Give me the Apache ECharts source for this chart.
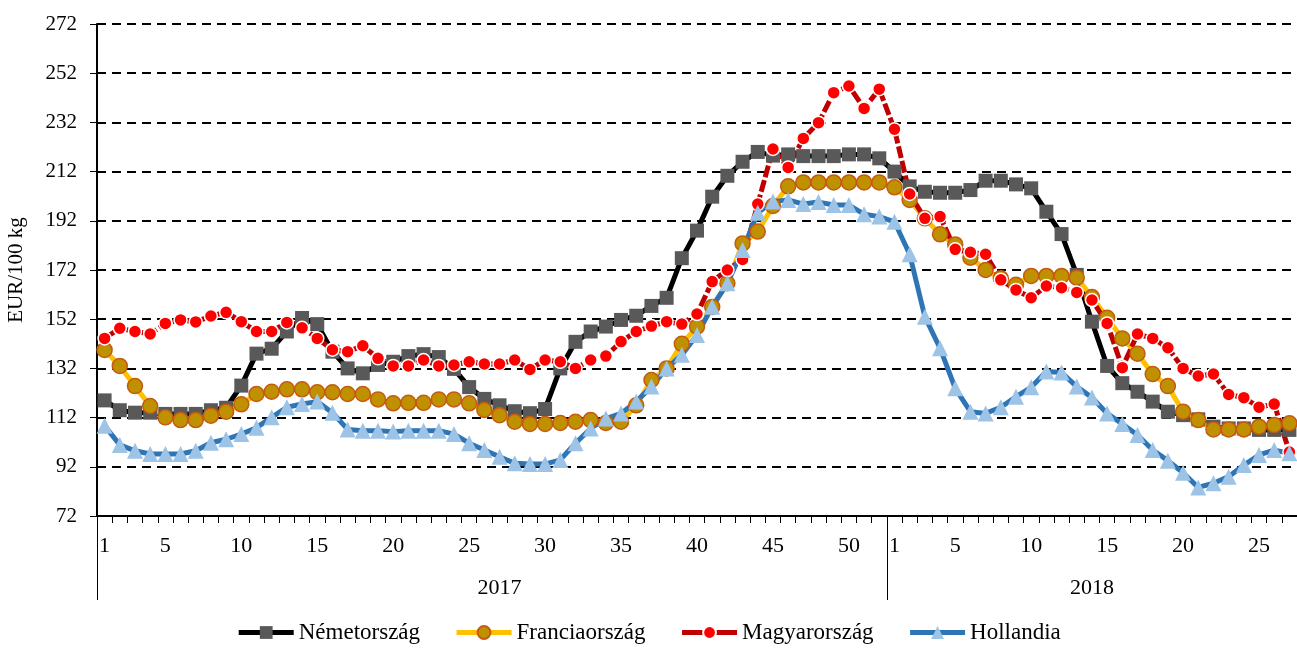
<!DOCTYPE html>
<html>
<head>
<meta charset="utf-8">
<script src="https://cdn.jsdelivr.net/npm/echarts@6/dist/echarts.min.js"></script>
<style>
  html, body { margin: 0; padding: 0; background: #fff; }
  #chart { width: 1297px; height: 652px; }
</style>
</head>
<body>
<div id="chart"></div>
<script>
// weeks of each year
const weeks2017 = [1,2,3,4,5,6,7,8,9,10,11,12,13,14,15,16,17,18,19,20,21,22,23,24,25,26,
  27,28,29,30,31,32,33,34,35,36,37,38,39,40,41,42,43,44,45,46,47,48,49,50,51,52];
const weeks2018 = [1,2,3,4,5,6,7,8,9,10,11,12,13,14,15,16,17,18,19,20,21,22,23,24,25,26,27];
const years = ['2017', '2018'];

// EUR/100 kg
const nemetorszag = [
  119,115,114,114,113.5,113.5,113.5,115,116,125,138,140,147,152.5,150,138.8,132,130,133.4,134.7,
  137,137.8,136.6,131.8,124.4,119.6,117,114.6,113.8,115.5,132,142.8,147,149,151.7,153.4,157.4,160.7,
  176.8,188,201.8,210.3,216,220,218.5,219,218.3,218.3,218.3,219,219,217.4,
  212,206,203.8,203.4,203.4,204.5,208.3,208.3,206.8,205.2,195.7,186.6,170,151,133,126,122.5,118.5,
  114.4,113,111.3,108.3,107.6,107.6,107,107,107
];
const franciaorszag = [
  139.5,133,124.8,116.7,112.1,111,111,112.8,114.4,117.4,121.6,122.5,123.5,123.5,122.3,122.3,121.6,121.6,
  119.4,117.8,118,118,119.4,119.4,117.8,115.1,113,110.3,109.4,109.4,109.8,110.3,111,109.8,110.3,117,
  127.3,132,142,149,157,166.6,182.8,187.6,198,206,207.6,207.6,207.6,207.6,207.6,207.6,
  205.6,200.5,193,186.5,182.4,177,172,168.6,166,169.6,169.6,169.6,168.9,161,152.6,144.2,138,129.7,
  124.8,114.4,111,107.2,107.2,107.2,108.3,109,109.7
];
const magyarorszag = [
  144.2,148.3,147,146,150.3,151.7,150.9,153.3,154.8,151,147,147,150.7,148.5,144.2,139.6,138.8,141.2,
  136.1,133,133,135.4,133,133.4,134.7,133.8,133.8,135.4,131.6,135.4,134.7,132,135.4,137,142.9,147,
  149.2,151,150,154.1,167.3,172,176.3,198.8,221.2,213.7,225.5,231.9,244.1,246.8,237.7,245.5,
  229.2,202.9,193,193.7,180.4,179.2,178.4,168,163.9,160.7,165.5,164.8,162.9,159.8,150.3,132.3,146,144.2,
  140.4,132,128.9,129.7,121.4,120.1,116.2,117.5,98
];
const hollandia = [
  108.7,100.9,98.5,97.2,97.2,97.2,98.5,101.8,103.2,105.3,107.9,112.1,116.2,117.5,118.5,114,107.2,106.7,
  106.7,106.3,106.7,106.7,106.7,105.3,101.6,98.8,96.1,93.4,93.1,93.1,94.8,101.6,107.6,111.6,113.7,118.5,
  124.6,132,137.5,145.6,157.1,166.6,180.1,195.3,199.8,200.5,198.8,199.6,198.4,198.4,194.7,193.7,
  191.6,178.4,153,140.2,123.9,114.4,113.7,116.2,120.5,124.3,130.7,130.3,124.6,120.2,113.7,109.4,104.9,98.8,
  94.5,89.6,83.6,85.3,88,92.7,96.8,98.8,97.5
];

const categories = weeks2017.map(w => years[0] + '/' + w)
  .concat(weeks2018.map(w => years[1] + '/' + w));
const firstOf2018 = weeks2017.length;

const FONT = '"Liberation Serif", "Times New Roman", serif';

const chart = echarts.init(document.getElementById('chart'));
chart.setOption({
  animation: false,
  grid: { left: 97, right: 0, top: 24, bottom: 136, outerBoundsMode: 'none' },
  legend: {
    bottom: 3,
    itemWidth: 55,
    itemHeight: 16,
    itemGap: 34,
    textStyle: { fontFamily: FONT, fontSize: 23, color: '#000' },
    data: [
      { name: 'Németország', lineStyle: { width: 5 } },
      { name: 'Franciaország', lineStyle: { width: 5 } },
      { name: 'Magyarország', lineStyle: { width: 5, type: 'solid' } },
      { name: 'Hollandia', lineStyle: { width: 5 } }
    ]
  },
  xAxis: [
    {
      type: 'category',
      data: categories,
      boundaryGap: true,
      axisLine: { lineStyle: { color: '#000', width: 2 } },
      axisTick: { show: true, length: 7, interval: 0, lineStyle: { color: '#000', width: 1 } },
      axisLabel: {
        interval: function (idx, val) {
          const w = +val.split('/')[1];
          return w === 1 || w % 5 === 0;
        },
        formatter: function (val) { return val.split('/')[1]; },
        margin: 19,
        fontFamily: FONT, fontSize: 22, color: '#000'
      },
      splitLine: { show: false }
    },
    {
      type: 'category',
      data: categories,
      position: 'bottom',
      offset: 84,
      boundaryGap: true,
      axisLine: { show: false },
      axisTick: {
        show: true, inside: true, length: 84,
        interval: function (idx) { return idx === 0 || idx === firstOf2018; },
        lineStyle: { color: '#000', width: 1 }
      },
      axisLabel: {
        inside: true,
        margin: 1,
        interval: function (idx) { return idx === 26 || idx === 65; },
        formatter: function (val) { return val.split('/')[0]; },
        fontFamily: FONT, fontSize: 22, color: '#000'
      },
      splitLine: { show: false }
    }
  ],
  yAxis: {
    type: 'value',
    min: 72,
    max: 272,
    interval: 20,
    name: 'EUR/100 kg',
    nameLocation: 'middle',
    nameGap: 70,
    nameTextStyle: { fontFamily: FONT, fontSize: 21, color: '#000' },
    axisLine: { show: true, lineStyle: { color: '#000', width: 2 } },
    axisTick: { show: true, length: 7, lineStyle: { color: '#000', width: 1 } },
    axisLabel: { margin: 20, fontFamily: FONT, fontSize: 21, color: '#000' },
    splitLine: { lineStyle: { color: '#000', width: 2, type: [9, 6] } }
  },
  series: [
    {
      name: 'Németország',
      type: 'line',
      data: nemetorszag,
      showAllSymbol: true,
      symbol: 'rect',
      symbolSize: 14,
      lineStyle: { color: '#000', width: 5 },
      itemStyle: { color: '#595959', borderWidth: 0 }
    },
    {
      name: 'Franciaország',
      type: 'line',
      data: franciaorszag,
      showAllSymbol: true,
      symbol: 'circle',
      symbolSize: 15,
      lineStyle: { color: '#FFC000', width: 5 },
      itemStyle: { color: '#BF9000', borderColor: '#C55A11', borderWidth: 1.5 }
    },
    {
      name: 'Magyarország',
      type: 'line',
      data: magyarorszag,
      showAllSymbol: true,
      symbol: 'circle',
      symbolSize: 13,
      lineStyle: { color: '#C00000', width: 5, type: [12, 3] },
      itemStyle: { color: '#FF0000', borderColor: '#fff', borderWidth: 1.5 }
    },
    {
      name: 'Hollandia',
      type: 'line',
      data: hollandia,
      showAllSymbol: true,
      symbol: 'triangle',
      symbolSize: 16,
      lineStyle: { color: '#2E75B6', width: 5 },
      itemStyle: { color: '#9DC3E6', borderWidth: 0 }
    }
  ]
});
</script>
</body>
</html>
